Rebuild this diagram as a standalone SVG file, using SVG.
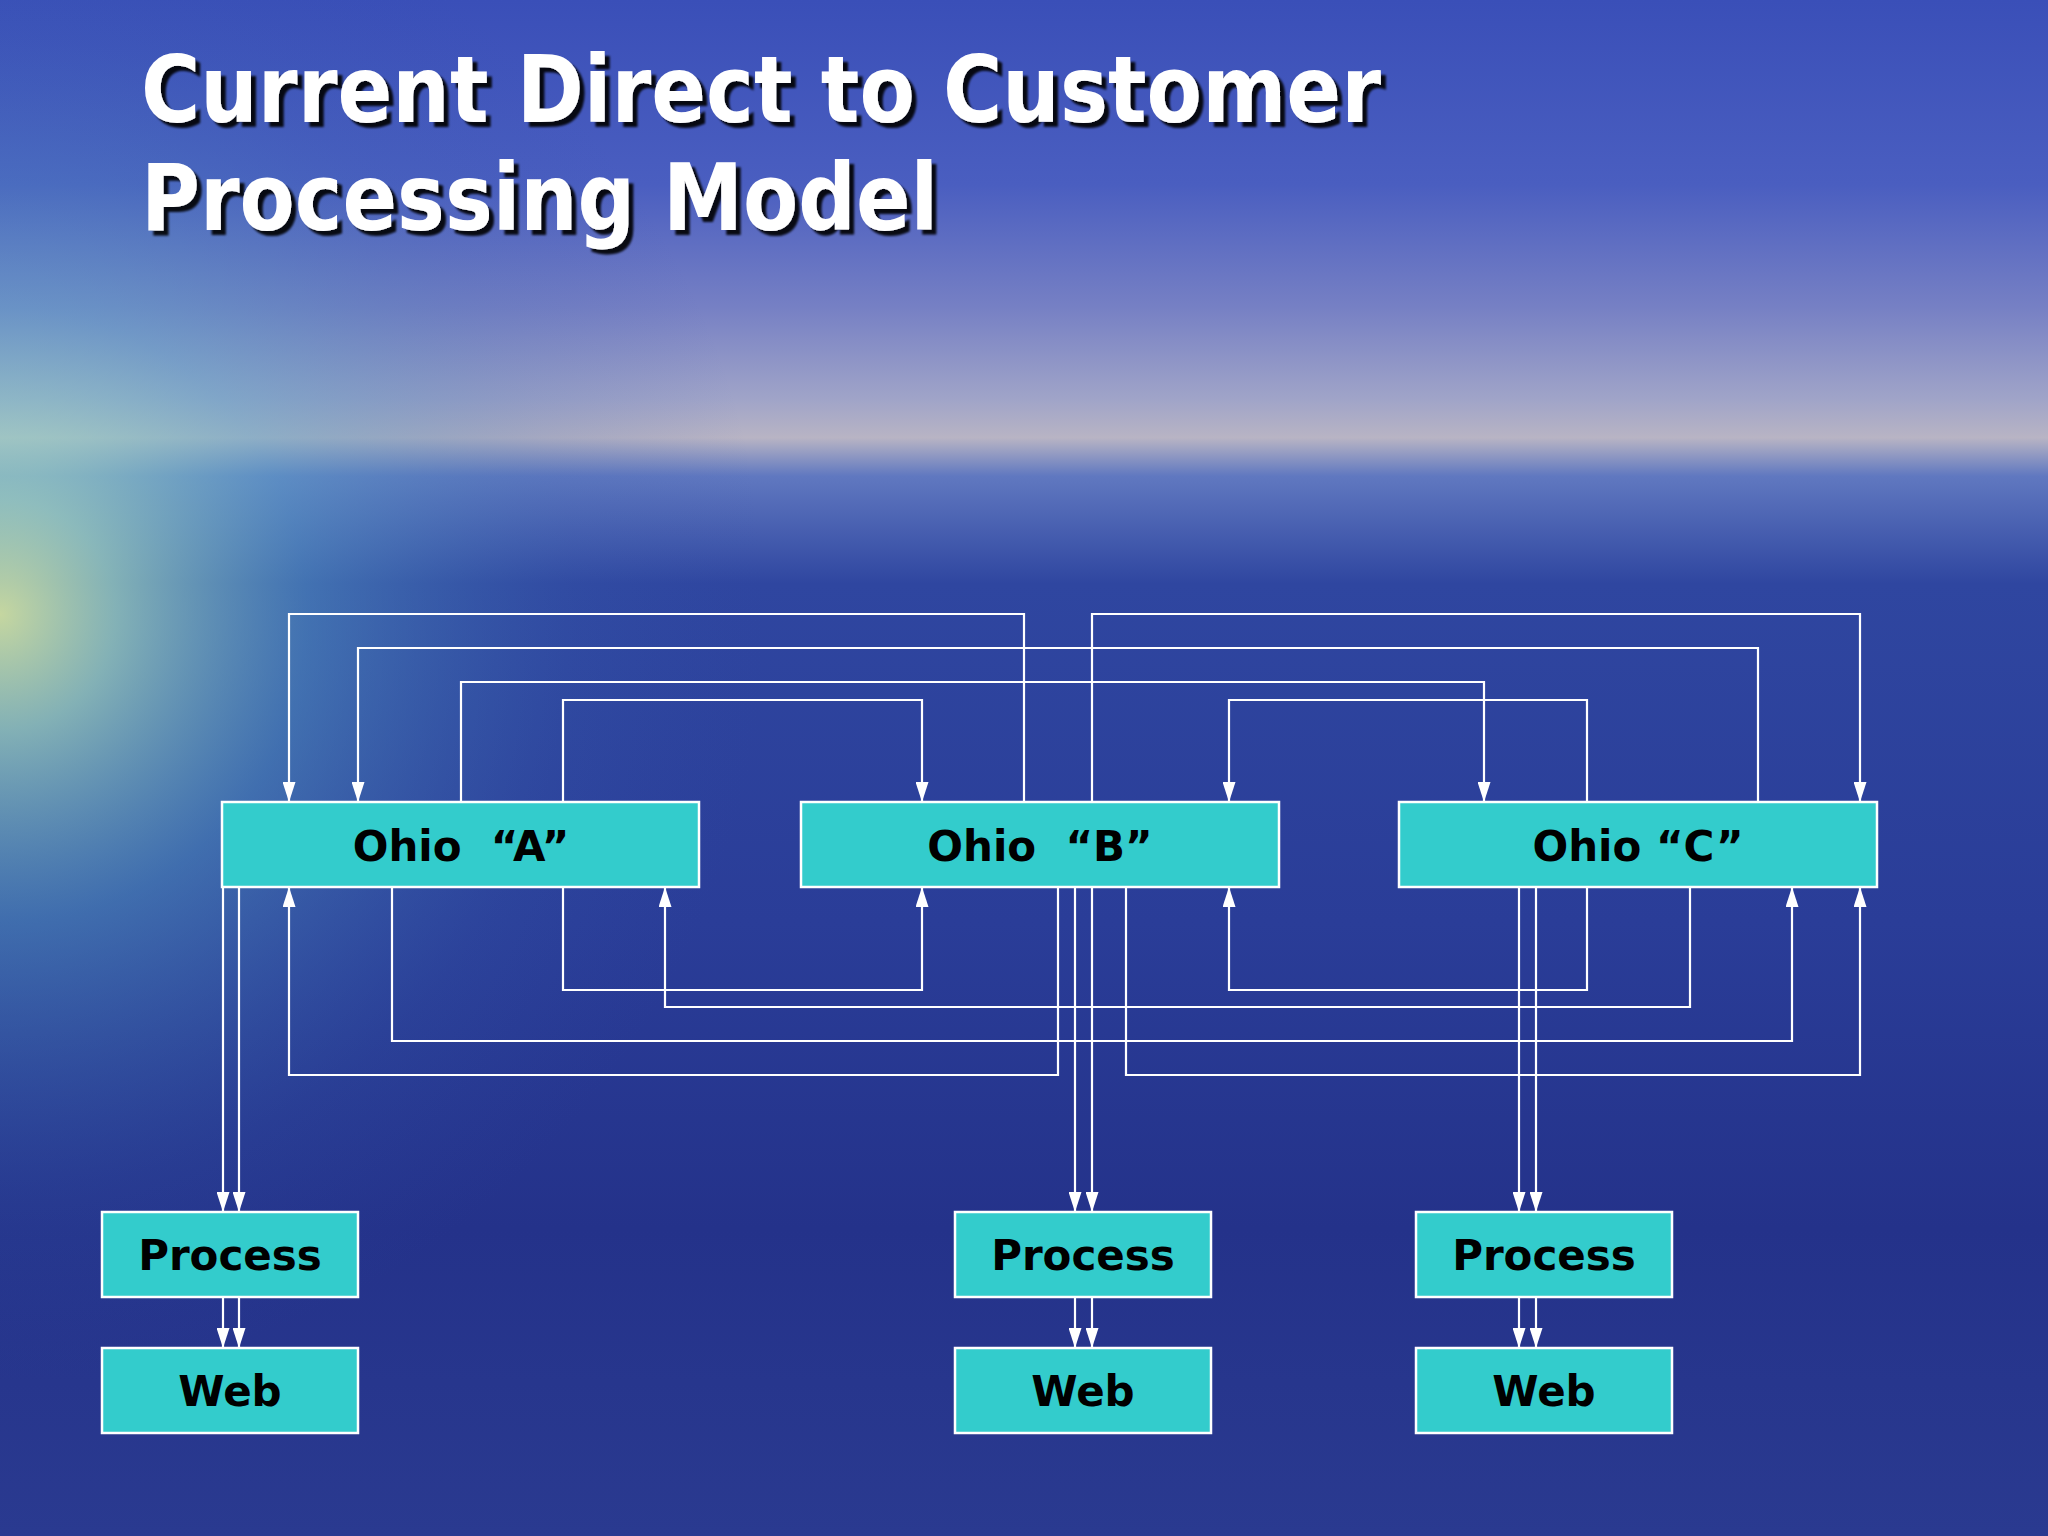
<svg xmlns="http://www.w3.org/2000/svg" width="2048" height="1536" viewBox="0 0 2048 1536">
<defs>
<linearGradient id="bg" x1="0" y1="0" x2="0" y2="1">
<stop offset="0" stop-color="#3a4fb8"/>
<stop offset="0.12" stop-color="#4a5ec0"/>
<stop offset="0.2" stop-color="#7680c4"/>
<stop offset="0.26" stop-color="#a0a4c8"/>
<stop offset="0.285" stop-color="#b8b4c4"/>
<stop offset="0.31" stop-color="#6078c0"/>
<stop offset="0.38" stop-color="#2f46a0"/>
<stop offset="0.6" stop-color="#2a3d98"/>
<stop offset="0.8" stop-color="#24328a"/>
<stop offset="1" stop-color="#2a3a90"/>
</linearGradient>
<radialGradient id="glow" cx="0" cy="0.4" r="0.5" gradientTransform="scale(0.75,1)">
<stop offset="0" stop-color="#e0f0a0" stop-opacity="0.85"/>
<stop offset="0.15" stop-color="#a8e0c0" stop-opacity="0.7"/>
<stop offset="0.4" stop-color="#5aa8c8" stop-opacity="0.45"/>
<stop offset="0.75" stop-color="#3a68b0" stop-opacity="0.15"/>
<stop offset="1" stop-color="#3050a8" stop-opacity="0"/>
</radialGradient>
<marker id="ah" viewBox="0 0 20 13" refX="20" refY="6.5" markerWidth="20" markerHeight="13" markerUnits="userSpaceOnUse" orient="auto">
<path d="M0,0 L20,6.5 L0,13 Z" fill="#fff"/>
</marker>
<filter id="sh"><feDropShadow dx="5" dy="5" stdDeviation="1" flood-color="#000" flood-opacity="0.9"/></filter>
</defs>
<style>
.box{fill:#33cccc;stroke:#fff;stroke-width:2.5}
.lbl{font-family:"DejaVu Sans",Verdana,sans-serif;font-weight:bold;font-size:42px;fill:#000;text-anchor:middle;white-space:pre}
.ttl{font-family:"DejaVu Sans",Verdana,sans-serif;font-weight:bold;font-size:92px;fill:#fff}
#connectors path{fill:none;stroke:#fff;stroke-width:2.2}
</style>
<rect width="2048" height="1536" fill="url(#bg)"/>
<rect width="2048" height="1536" fill="url(#glow)"/>
<g filter="url(#sh)">
<text class="ttl" x="141" y="122" textLength="1240" lengthAdjust="spacingAndGlyphs">Current Direct to Customer</text>
<text class="ttl" x="141" y="230" textLength="797" lengthAdjust="spacingAndGlyphs">Processing Model</text>
</g>
<g id="connectors">
<path d="M1024,802 V614 H289 V802" marker-end="url(#ah)"/>
<path d="M1092,802 V614 H1860 V802" marker-end="url(#ah)"/>
<path d="M1758,802 V648 H358 V802" marker-end="url(#ah)"/>
<path d="M461,802 V682 H1484 V802" marker-end="url(#ah)"/>
<path d="M563,802 V700 H922 V802" marker-end="url(#ah)"/>
<path d="M1587,802 V700 H1229 V802" marker-end="url(#ah)"/>
<path d="M563,887 V990 H922 V887" marker-end="url(#ah)"/>
<path d="M1587,887 V990 H1229 V887" marker-end="url(#ah)"/>
<path d="M1690,887 V1007 H665 V887" marker-end="url(#ah)"/>
<path d="M392,887 V1041 H1792 V887" marker-end="url(#ah)"/>
<path d="M1058,887 V1075 H289 V887" marker-end="url(#ah)"/>
<path d="M1126,887 V1075 H1860 V887" marker-end="url(#ah)"/>
<path d="M223,887 V1212" marker-end="url(#ah)"/>
<path d="M239,887 V1212" marker-end="url(#ah)"/>
<path d="M1075,887 V1212" marker-end="url(#ah)"/>
<path d="M1092,887 V1212" marker-end="url(#ah)"/>
<path d="M1519,887 V1212" marker-end="url(#ah)"/>
<path d="M1536,887 V1212" marker-end="url(#ah)"/>
<path d="M223,1297 V1348" marker-end="url(#ah)"/>
<path d="M239,1297 V1348" marker-end="url(#ah)"/>
<path d="M1075,1297 V1348" marker-end="url(#ah)"/>
<path d="M1092,1297 V1348" marker-end="url(#ah)"/>
<path d="M1519,1297 V1348" marker-end="url(#ah)"/>
<path d="M1536,1297 V1348" marker-end="url(#ah)"/>
</g>
<g id="ohioA"><rect class="box" x="222" y="802" width="477" height="85"/><text class="lbl" x="461" y="861" xml:space="preserve">Ohio  “A”</text></g>
<g id="ohioB"><rect class="box" x="801" y="802" width="478" height="85"/><text class="lbl" x="1040" y="861" xml:space="preserve">Ohio  “B”</text></g>
<g id="ohioC"><rect class="box" x="1399" y="802" width="478" height="85"/><text class="lbl" x="1638" y="861">Ohio “C”</text></g>
<g id="processA"><rect class="box" x="102" y="1212" width="256" height="85"/><text class="lbl" x="230" y="1270">Process</text></g>
<g id="processB"><rect class="box" x="955" y="1212" width="256" height="85"/><text class="lbl" x="1083" y="1270">Process</text></g>
<g id="processC"><rect class="box" x="1416" y="1212" width="256" height="85"/><text class="lbl" x="1544" y="1270">Process</text></g>
<g id="webA"><rect class="box" x="102" y="1348" width="256" height="85"/><text class="lbl" x="230" y="1406">Web</text></g>
<g id="webB"><rect class="box" x="955" y="1348" width="256" height="85"/><text class="lbl" x="1083" y="1406">Web</text></g>
<g id="webC"><rect class="box" x="1416" y="1348" width="256" height="85"/><text class="lbl" x="1544" y="1406">Web</text></g>
</svg>
